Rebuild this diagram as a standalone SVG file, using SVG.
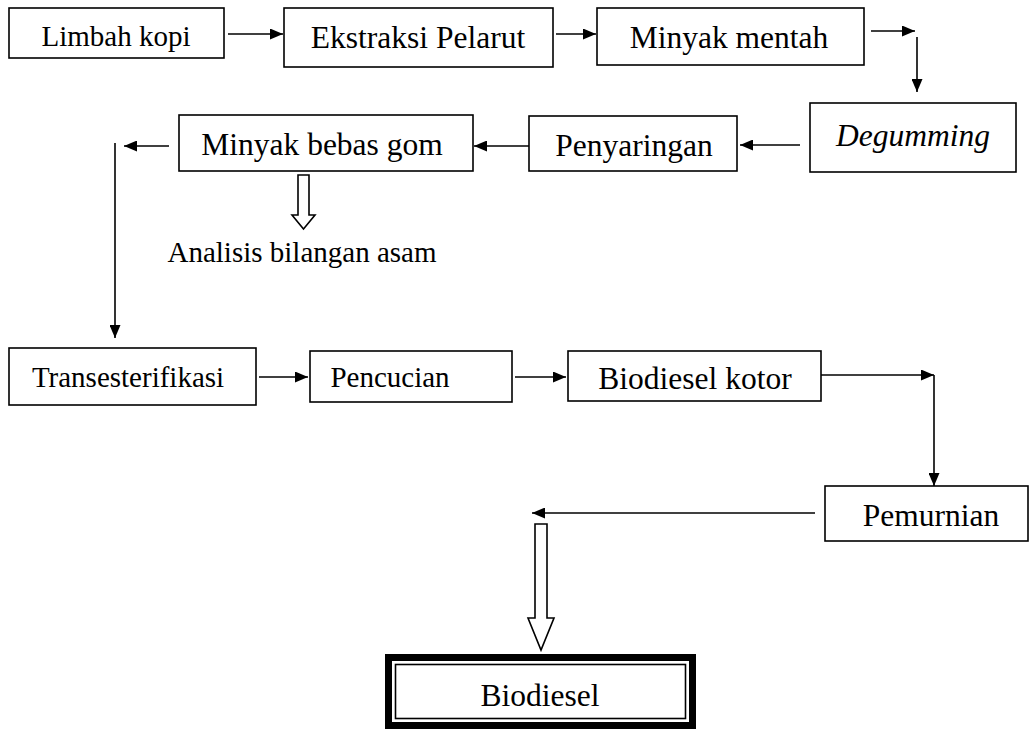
<svg xmlns="http://www.w3.org/2000/svg" width="1030" height="729" viewBox="0 0 1030 729">
<style>
.box{fill:#fff;stroke:#000;stroke-width:1.6}
.t{font-family:"Liberation Serif","Times New Roman",serif;font-size:31.5px;fill:#000;text-anchor:middle}
.s{font-size:29px}
.ln{fill:none;stroke:#000;stroke-width:1.6}
.hollow{fill:#fff;stroke:#000;stroke-width:1.6;stroke-linejoin:miter}
</style>
<defs>
<marker id="ah" markerWidth="13" markerHeight="11" refX="13" refY="5.5" orient="auto" markerUnits="userSpaceOnUse">
<path d="M0,0 L13,5.5 L0,11 z" fill="#000"/>
</marker>
</defs>
<rect width="1030" height="729" fill="#fff"/>
<g id="connectors">
<line class="ln" x1="228" y1="34" x2="283" y2="34" marker-end="url(#ah)"/>
<line class="ln" x1="556" y1="34" x2="596" y2="34" marker-end="url(#ah)"/>
<line class="ln" x1="871" y1="31" x2="915" y2="31" marker-end="url(#ah)"/>
<line class="ln" x1="917" y1="37" x2="917" y2="92" marker-end="url(#ah)"/>
<line class="ln" x1="800" y1="145" x2="740" y2="145" marker-end="url(#ah)"/>
<line class="ln" x1="529" y1="146" x2="474" y2="146" marker-end="url(#ah)"/>
<line class="ln" x1="169" y1="146" x2="124" y2="146" marker-end="url(#ah)"/>
<line class="ln" x1="115" y1="143" x2="115" y2="338" marker-end="url(#ah)"/>
<line class="ln" x1="259" y1="377" x2="308" y2="377" marker-end="url(#ah)"/>
<line class="ln" x1="515" y1="377" x2="566" y2="377" marker-end="url(#ah)"/>
<line class="ln" x1="821" y1="375" x2="934" y2="375" marker-end="url(#ah)"/>
<line class="ln" x1="934" y1="375" x2="934" y2="486" marker-end="url(#ah)"/>
<line class="ln" x1="815" y1="513" x2="532" y2="513" marker-end="url(#ah)"/>
<path class="hollow" d="M298,175 H309 V215 H315 L303.5,229 L292,215 H298 Z"/>
<path class="hollow" d="M535,524 H547 V618 H554 L541,650 L528,618 H535 Z"/>
</g>
<g id="limbah-kopi"><rect class="box" x="9" y="8" width="215" height="50"/><text class="t s" x="116" y="46">Limbah kopi</text></g>
<g id="ekstraksi-pelarut"><rect class="box" x="284" y="8" width="269" height="59"/><text class="t" x="418" y="48">Ekstraksi Pelarut</text></g>
<g id="minyak-mentah"><rect class="box" x="597" y="8" width="267" height="57"/><text class="t" x="729" y="48">Minyak mentah</text></g>
<g id="degumming"><rect class="box" x="810" y="103" width="206" height="69"/><text class="t" x="913" y="146" font-style="italic">Degumming</text></g>
<g id="penyaringan"><rect class="box" x="529" y="116" width="208" height="55"/><text class="t" x="634" y="156">Penyaringan</text></g>
<g id="minyak-bebas-gom"><rect class="box" x="179" y="115" width="294" height="56"/><text class="t" x="322" y="155">Minyak bebas gom</text></g>
<g id="analisis"><text class="t s" x="302" y="262">Analisis bilangan asam</text></g>
<g id="transesterifikasi"><rect class="box" x="9" y="348" width="247" height="57"/><text class="t s" x="128" y="387">Transesterifikasi</text></g>
<g id="pencucian"><rect class="box" x="310" y="351" width="202" height="51"/><text class="t s" x="390" y="387">Pencucian</text></g>
<g id="biodiesel-kotor"><rect class="box" x="568" y="351" width="253" height="50"/><text class="t" x="695" y="389">Biodiesel kotor</text></g>
<g id="pemurnian"><rect class="box" x="825" y="486" width="203" height="55"/><text class="t" x="931" y="526">Pemurnian</text></g>
<g id="biodiesel">
<rect x="388.5" y="657.5" width="304" height="68" fill="#fff" stroke="#000" stroke-width="7"/>
<rect x="395.5" y="664.5" width="290" height="54" fill="none" stroke="#000" stroke-width="1.6"/>
<text class="t" x="540" y="706">Biodiesel</text>
</g>
</svg>
